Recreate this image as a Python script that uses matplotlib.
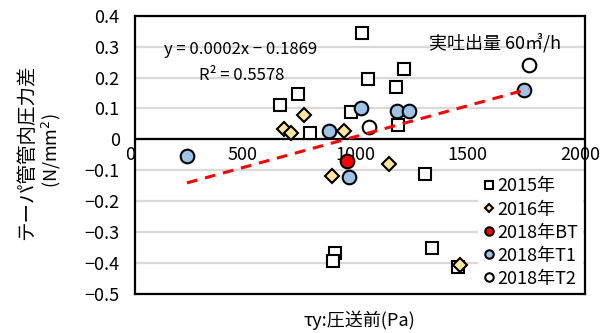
import matplotlib
matplotlib.use("Agg")
import matplotlib.pyplot as plt
import numpy as np

plt.rcParams['font.family'] = ['Noto Sans CJK JP', 'DejaVu Sans']

# ---- data ----
x_2015 = [1010, 643, 723, 779, 961, 1034, 1197, 1159, 1168, 1288, 888, 880, 1321, 1434]
y_2015 = [0.343, 0.112, 0.147, 0.022, 0.089, 0.196, 0.227, 0.168, 0.046, -0.112, -0.368, -0.392, -0.350, -0.414]

x_2016 = [752, 664, 695, 929, 877, 1130, 1444]
y_2016 = [0.078, 0.033, 0.020, 0.028, -0.118, -0.081, -0.406]

x_bt = [942]
y_bt = [-0.070]

x_t1 = [862, 1004, 1164, 1219, 1728, 231, 951]
y_t1 = [0.027, 0.103, 0.092, 0.091, 0.161, -0.054, -0.122]

x_t2 = [1040, 1750]
y_t2 = [0.041, 0.240]

trend_slope = 0.0002
trend_intercept = -0.1869

y_ticks = [-0.5, -0.4, -0.3, -0.2, -0.1, 0, 0.1, 0.2, 0.3, 0.4]
y_tick_labels = ["−0.5", "−0.4", "−0.3", "−0.2", "−0.1", "0", "0.1", "0.2", "0.3", "0.4"]
x_ticks = [0, 500, 1000, 1500, 2000]
x_tick_labels = ["0", "500", "1000", "1500", "2000"]

series_labels = ["2015年", "2016年", "2018年BT", "2018年T1", "2018年T2"]

# ---- figure ----
fig = plt.figure(figsize=(6.14, 3.33), dpi=100)
ax = fig.add_axes([135/614, 39/333, 450/614, 278.3/333])

ax.set_xlim(0, 2000)
ax.set_ylim(-0.5, 0.4)

ax.set_yticks(y_ticks)
ax.set_yticklabels(y_tick_labels, fontsize=13)
ax.set_xticks(x_ticks)
ax.set_xticklabels([])
ax.tick_params(axis='both', length=0)
ax.tick_params(axis='y', pad=11)

ax.yaxis.grid(True, color='#D9D9D9', lw=1.6)
ax.set_axisbelow(True)

for s in ax.spines.values():
    s.set_linewidth(1.6)
    s.set_color('black')

ax.axhline(0, color='black', lw=1.6, zorder=1.5)

for v, lbl in zip(x_ticks, x_tick_labels):
    ax.annotate(lbl, (v, 0), xytext=(-3.5, -5), textcoords='offset points',
                ha='center', va='top', fontsize=13, annotation_clip=False, zorder=1.6)

mew = 1.5
ax.plot(x_2015, y_2015, ls='none', marker='s', ms=8.4, mfc='white', mec='black', mew=mew,
        label=series_labels[0], zorder=3)
ax.plot(x_2016, y_2016, ls='none', marker='D', ms=7.2, mfc='#FFE699', mec='black', mew=mew,
        label=series_labels[1], zorder=3)
ax.plot(x_bt, y_bt, ls='none', marker='o', ms=9.8, mfc='#FF0000', mec='black', mew=mew,
        label=series_labels[2], zorder=3)
ax.plot(x_t1, y_t1, ls='none', marker='o', ms=9.8, mfc='#9DC3E6', mec='black', mew=mew,
        label=series_labels[3], zorder=3)
ax.plot(x_t2, y_t2, ls='none', marker='o', ms=9.8, mfc='white', mec='black', mew=mew,
        label=series_labels[4], zorder=3)

all_x = np.array(x_2015 + x_2016 + x_bt + x_t1 + x_t2, dtype=float)
tx = np.array([all_x.min(), all_x.max()])
ax.plot(tx, trend_slope * tx + trend_intercept, color='#FF0000', lw=2.2,
        ls=(0, (3.5, 2.6)), zorder=4)

ax.text(0.235, 0.878, "y = 0.0002x − 0.1869", transform=ax.transAxes,
        ha='center', va='center', fontsize=12)
ax.text(0.237, 0.785, "R² = 0.5578", transform=ax.transAxes,
        ha='center', va='center', fontsize=12)
ax.text(0.8, 0.9, "実吐出量 60㎥/h", transform=ax.transAxes,
        ha='center', va='center', fontsize=13)

leg = ax.legend(loc='lower right', bbox_to_anchor=(1.0, 0.0), fontsize=13,
                frameon=True, fancybox=False, framealpha=1, edgecolor='none',
                facecolor='white', markerscale=0.62, handlelength=0.7,
                handletextpad=0.15, labelspacing=0.28, borderpad=0.25,
                borderaxespad=0.1)
leg.set_zorder(5)

fig.text(27/614, 1 - 152/333, "テーパ管管内圧力差", rotation=90,
         ha='center', va='center', fontsize=14)
fig.text(51/614, 1 - 151/333, "(N/mm$^{2}$)", rotation=90,
         ha='center', va='center', fontsize=13)
fig.text(359/614, 1 - 320/333, "τy:圧送前(Pa)", ha='center', va='center', fontsize=13)

fig.savefig("out.png", dpi=100)
